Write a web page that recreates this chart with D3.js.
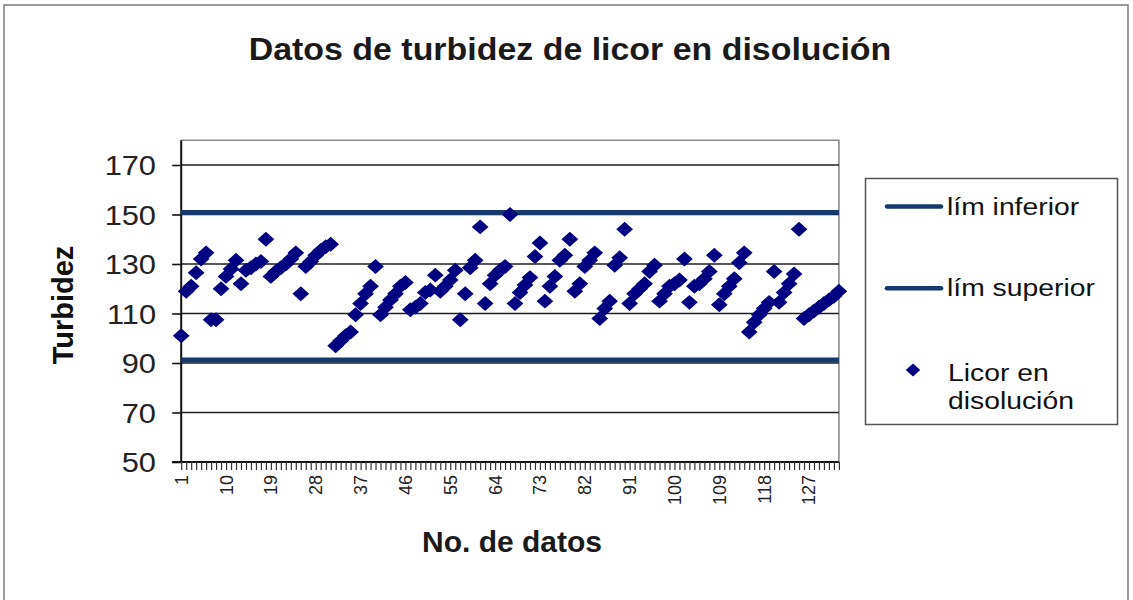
<!DOCTYPE html>
<html>
<head>
<meta charset="utf-8">
<script src="https://cdn.jsdelivr.net/npm/d3@7"></script>
<style>
  body { margin: 0; background: #fff; }
  svg { display: block; }
  text { font-family: "Liberation Sans", Arial, Helvetica, sans-serif; }
</style>
</head>
<body>
<svg id="chart" width="1133" height="600"></svg>
<script>
// ---- data ---------------------------------------------------------------
const categories = d3.range(1, 134);            // No. de datos 1..133
const turbidez = [
  101, 119, 121, 126.5, 132, 134.5, 107.5, 107.5, 120, 125,
  128, 131.5, 122, 127.5, 128.5, 130, 131, 140, 125, 127,
  128.5, 130, 132, 134.5, 118, 129, 131, 133.5, 135.5, 137,
  138, 97, 99, 101, 102.5, 109.5, 114, 118, 121, 129,
  109.5, 112.5, 115.5, 118, 121, 122.5, 111.5, 112.5, 114, 118.5,
  119.5, 125.5, 119, 121, 123.5, 127.5, 107.5, 118, 128.5, 131.5,
  145, 114, 122, 125.5, 127.5, 129, 150, 114, 118.5, 121.5,
  124.5, 133, 138.5, 115, 121, 125, 131.5, 133.5, 140, 119,
  122, 129, 131.5, 134.5, 108, 112, 115, 129.5, 132.5, 144,
  114, 118, 120, 122, 127, 129.5, 115, 118, 121, 122,
  123.5, 132, 114.5, 121, 122, 124, 127, 133.5, 113.5, 118,
  121, 124, 130.5, 134.5, 102.5, 106.5, 109.5, 112, 114.5, 127,
  114.5, 118.5, 122, 126, 144, 108, 109.5, 111, 112.5, 114,
  115.5, 117, 119
];
const limInferior = 91.2;
const limSuperior = 150.8;
const yTicks = [50, 70, 90, 110, 130, 150, 170];
const xTickLabels = [1, 10, 19, 28, 37, 46, 55, 64, 73, 82, 91, 100, 109, 118, 127];
const legendItems = ["lím inferior", "lím superior"];

// ---- layout -------------------------------------------------------------
const svg = d3.select("#chart");
const plot = { left: 181.2, right: 838.9, top: 140.25, bottom: 462 };
const navy = "#000080";
const limitColor = "#15396b";

const x = d3.scaleLinear().domain([1, 133]).range([plot.left, plot.right]);
const y = d3.scaleLinear().domain([50, 180]).range([plot.bottom, plot.top]);

// diamond marker (square rotated 45 degrees, slightly wide)
const diamond = {
  draw(ctx, size) {
    const h = Math.sqrt(size / 2);
    const w = h * 1.12;
    ctx.moveTo(0, -h); ctx.lineTo(w, 0); ctx.lineTo(0, h); ctx.lineTo(-w, 0); ctx.closePath();
  }
};

// outer chart frame
svg.append("rect")
  .attr("x", 4).attr("y", 5).attr("width", 1124).attr("height", 610)
  .attr("fill", "#fff").attr("stroke", "#7a7a7a").attr("stroke-width", 1.5);

// helper for horizontally widened text
function wideText(g, str, tx, ty, opts) {
  const sx = opts.sx || 1.08;
  return g.append("text")
    .attr("transform", `translate(${tx},${ty}) scale(${sx},1)`)
    .attr("text-anchor", opts.anchor || "start")
    .attr("font-size", opts.size)
    .attr("font-weight", opts.weight || "normal")
    .attr("fill", opts.fill || "#111")
    .attr("dy", opts.dy || null)
    .text(str);
}

// title
wideText(svg, "Datos de turbidez de licor en disolución", 570, 60,
  { size: 32, weight: "bold", anchor: "middle", sx: 1.06, fill: "#1a1a1a" });

// plot frame (top and right edges)
svg.append("path")
  .attr("d", `M${plot.left},${plot.top}H${plot.right}V${plot.bottom}`)
  .attr("fill", "none").attr("stroke", "#8a8a8a").attr("stroke-width", 1.6);

// horizontal gridlines
svg.append("g")
  .selectAll("line")
  .data(yTicks.filter(d => d > 50))
  .join("line")
  .attr("x1", plot.left).attr("x2", plot.right)
  .attr("y1", d => y(d)).attr("y2", d => y(d))
  .attr("stroke", "#1e1e1e").attr("stroke-width", 1.7);

// y axis (ticks + line)
const yAxis = svg.append("g")
  .attr("transform", `translate(${plot.left},0)`)
  .call(d3.axisLeft(y).tickValues(yTicks).tickSize(9).tickFormat(""));
yAxis.select(".domain").attr("stroke", "#111").attr("stroke-width", 2)
  .attr("d", `M0,${plot.top}V${plot.bottom}`);
yAxis.selectAll(".tick line").attr("stroke", "#111").attr("stroke-width", 1.6);

// y tick labels
const yLab = svg.append("g");
yTicks.forEach(t => wideText(yLab, String(t), 156, y(t),
  { size: 28, anchor: "end", sx: 1.1, dy: "0.36em", fill: "#222" }));

// y title
svg.append("text")
  .attr("transform", `translate(73,305) rotate(-90)`)
  .attr("text-anchor", "middle")
  .attr("font-size", 29).attr("font-weight", "bold").attr("fill", "#111")
  .text("Turbidez");

// x axis: a tick for every category
const xAxis = svg.append("g")
  .attr("transform", `translate(0,${plot.bottom})`)
  .call(d3.axisBottom(x).tickValues(categories).tickSize(8).tickFormat(""));
xAxis.select(".domain").attr("stroke", "#111").attr("stroke-width", 2)
  .attr("d", `M${plot.left - 9},0H${plot.right}`);
xAxis.selectAll(".tick line").attr("stroke", "#333").attr("stroke-width", 1.2);

// x tick labels, rotated
svg.append("g")
  .selectAll("text")
  .data(xTickLabels)
  .join("text")
  .attr("transform", d => `translate(${x(d)},475) rotate(-90)`)
  .attr("text-anchor", "end")
  .attr("dy", "0.36em")
  .attr("font-size", 18)
  .attr("fill", "#222")
  .text(d => d);

// x title
wideText(svg, "No. de datos", 512, 552,
  { size: 30, weight: "bold", anchor: "middle", sx: 1.0, fill: "#1a1a1a" });

// limit lines
const line = d3.line().x(d => x(d[0])).y(d => y(d[1]));
[limInferior, limSuperior].forEach(v => {
  svg.append("path")
    .attr("d", line([[categories[0], v], [categories[categories.length - 1], v]]))
    .attr("stroke", limitColor).attr("stroke-width", 5).attr("fill", "none");
});

// data points
svg.append("g")
  .selectAll("path")
  .data(turbidez)
  .join("path")
  .attr("transform", (d, i) => `translate(${x(categories[i])},${y(d)})`)
  .attr("d", d3.symbol(diamond, 112)())
  .attr("fill", navy);

// legend
const lg = svg.append("g");
lg.append("rect")
  .attr("x", 865.5).attr("y", 178.5).attr("width", 252).attr("height", 246)
  .attr("fill", "#fff").attr("stroke", "#555").attr("stroke-width", 1.5);
const rowY = [206.5, 288.3];
legendItems.forEach((name, i) => {
  lg.append("line")
    .attr("x1", 887).attr("x2", 941).attr("y1", rowY[i]).attr("y2", rowY[i])
    .attr("stroke", limitColor).attr("stroke-width", 4.5).attr("stroke-linecap", "round");
  wideText(lg, name, 947, rowY[i] + 8, { size: 24, sx: 1.18, fill: "#111" });
});
lg.append("path")
  .attr("transform", "translate(913,370)")
  .attr("d", d3.symbol(diamond, 84)())
  .attr("fill", navy);
wideText(lg, "Licor en", 948, 381, { size: 24, sx: 1.18, fill: "#111" });
wideText(lg, "disolución", 948, 409, { size: 24, sx: 1.18, fill: "#111" });
</script>
</body>
</html>
